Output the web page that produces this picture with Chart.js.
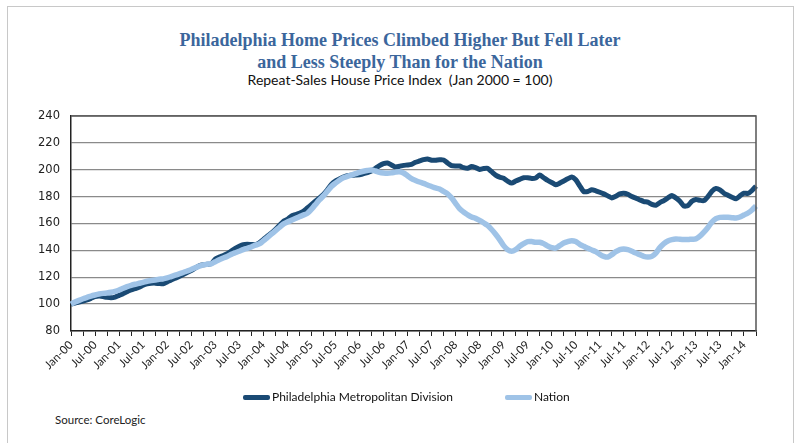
<!DOCTYPE html>
<html>
<head>
<meta charset="utf-8">
<script src="https://cdn.jsdelivr.net/npm/chart.js@4.4.1/dist/chart.umd.min.js"></script>
<style>
  body { margin: 0; width: 800px; height: 443px; background: #fff; position: relative; overflow: hidden; font-family: Lato, sans-serif; }
  #frame { position: absolute; left: 7px; top: 6px; width: 785px; height: 460px; border: 1px solid #c8c8c8; }
  #titulo { position: absolute; left: 0; width: 800px; top: 29px; text-align: center; font-family: "Liberation Serif", serif; font-weight: bold; font-size: 18px; line-height: 22px; color: #3b669c; }
  #subtitulo { position: absolute; left: 0; width: 800px; top: 71px; text-align: center; font-size: 14px; color: #111; }
  #grafico { position: absolute; left: 0; top: 98px; }
  .leyenda { position: absolute; top: 389px; font-size: 12px; color: #111; }
  .muestra { display: inline-block; width: 27px; height: 5px; border-radius: 2px; vertical-align: middle; margin-right: 2px; }
  #fuente { position: absolute; left: 55px; top: 413px; font-size: 11.5px; color: #222; }
</style>
</head>
<body>
<div id="frame"></div>
<div id="titulo">Philadelphia Home Prices Climbed Higher But Fell Later<br>and Less Steeply Than for the Nation</div>
<div id="subtitulo">Repeat-Sales House Price Index&nbsp; (Jan 2000 = 100)</div>
<canvas id="grafico" width="800" height="293"></canvas>
<div class="leyenda" style="left:243px"><span class="muestra" style="background:#1a4a74"></span>Philadelphia Metropolitan Division</div>
<div class="leyenda" style="left:505px"><span class="muestra" style="background:#9fc3e7"></span>Nation</div>
<div id="fuente">Source: CoreLogic</div>
<script>
// Meses Jan-00 .. Apr-14 (172 puntos)
const mesesNombre = ['Jan','Feb','Mar','Apr','May','Jun','Jul','Aug','Sep','Oct','Nov','Dec'];
const meses = [];
for (let a = 2000; a <= 2014; a++) {
    for (let m = 0; m < 12; m++) {
        if (meses.length < 172) meses.push(mesesNombre[m] + '-' + String(a % 100).padStart(2, '0'));
    }
}

// Philadelphia Metropolitan Division
const philadelphia = [
    100, 100.8, 101.5, 102.3, 103.2, 104.3, 105.5, 106, 105.6, 105, 104.7, 105.2,          // 2000
    106.5, 107.8, 109.3, 110.5, 111.5, 112.5, 114, 115, 115.5, 115.6, 115.3, 115.1,        // 2001
    116.5, 118, 119.3, 120.5, 122, 123.5, 125, 126.8, 128.5, 129.3, 129.6, 130,            // 2002
    133.5, 135, 136.2, 137.5, 139.5, 141.5, 143, 144.2, 144.5, 144.3, 144.2, 145.5,        // 2003
    148, 150.5, 152.8, 155.5, 158.5, 161.5, 163, 165.5, 166.5, 167.5, 169, 171.5,          // 2004
    174, 176.5, 179, 181.5, 185, 189, 191.5, 193, 194.5, 195.6, 195.8, 196,                // 2005
    196.2, 197, 197.8, 199, 201, 203, 204.5, 205, 203.5, 202, 202.5, 203.2,                // 2006
    203.5, 204, 205.5, 206.5, 207.5, 208, 207, 207, 207.3, 207.2, 205, 203,                // 2007
    202.7, 202.7, 201.5, 201, 202.3, 201.5, 200.2, 200.8, 201, 198.5, 196, 194.5,          // 2008
    193.6, 191.5, 190, 191.5, 192.8, 194, 194, 193.5, 193.8, 196, 194, 192,                // 2009
    190.5, 188.8, 190, 191.6, 193.2, 194.6, 192.5, 188, 183.7, 183.8, 185, 184.3,          // 2010
    183.2, 182, 180.5, 179, 180.3, 182, 182.5, 181.7, 180, 178.8, 177.5, 176.3,            // 2011
    175.8, 174.2, 173.5, 175.5, 177, 179, 180.7, 179, 176.5, 173, 173.2, 176.5,            // 2012
    177.8, 177.2, 177, 180, 184, 186, 185, 182.5, 181, 179.5, 178.3, 180.5,                // 2013
    182.5, 182.3, 184.5, 187.8                                                             // 2014
];

// Nation
const nacion = [
    100, 101.5, 102.8, 104, 105, 106, 106.8, 107.5, 108, 108.3, 108.8, 109.5,              // 2000
    110.5, 111.8, 113, 114, 114.8, 115.5, 116.2, 117, 117.5, 118, 118.5, 118.8,            // 2001
    119.5, 120.5, 121.5, 122.5, 123.5, 124.6, 125.7, 127, 128.2, 129.2, 129.7, 130,        // 2002
    131.5, 133, 134.3, 135.5, 137, 138.2, 139.3, 140.5, 141.5, 142.5, 143.8, 144.8,        // 2003
    147, 149.5, 152, 154.5, 157, 159.5, 161, 162.3, 163.6, 165, 166.2, 167.5,              // 2004
    170.5, 174, 177.5, 180.5, 184, 187.5, 190, 192.2, 194, 195, 196, 197,                  // 2005
    198, 198.8, 199.4, 199.7, 199, 198, 197.5, 197.3, 197.6, 198.2, 198.5, 197.5,          // 2006
    195.5, 193.3, 192, 190.8, 189.8, 188.6, 187.5, 186.4, 185.6, 183.8, 182, 179,          // 2007
    175, 171, 168.5, 166.5, 164.8, 163.8, 162.3, 160.5, 158.5, 155.5, 152, 148,            // 2008
    143.5, 140.5, 139.3, 140.5, 143, 145, 146.5, 146.5, 146, 146, 145, 143.2,              // 2009
    142, 141.7, 143.5, 145.4, 146.5, 147.2, 146.5, 144.5, 143, 141.5, 140.3, 139,          // 2010
    137, 135.5, 135, 136.8, 139, 140.6, 141, 140.5, 139.3, 138, 136.8, 135.5,              // 2011
    135, 135.5, 138, 142, 145, 147, 148, 148.5, 148.2, 148, 148, 148.3,                    // 2012
    148.5, 150.5, 153.5, 157, 161, 163.5, 164.5, 164.7, 164.6, 164.3, 164.1, 164.8,        // 2013
    166.3, 167.8, 170, 173                                                                 // 2014
];

const yMin = 80;
const yMax = 240;
const yPaso = 20;

// borde superior y derecho del área del gráfico
const marco = {
    id: 'marco',
    afterDraw(chart) {
        const { ctx, chartArea } = chart;
        ctx.save();
        ctx.strokeStyle = '#555';
        ctx.lineWidth = 1.5;
        ctx.beginPath();
        ctx.moveTo(chartArea.left, chartArea.top);
        ctx.lineTo(chartArea.right, chartArea.top);
        ctx.lineTo(chartArea.right, chartArea.bottom);
        ctx.stroke();
        ctx.restore();
    }
};

const ctx = document.getElementById('grafico').getContext('2d');
new Chart(ctx, {
    type: 'line',
    data: {
        labels: meses,
        datasets: [
            {
                label: 'Philadelphia Metropolitan Division',
                data: philadelphia,
                borderColor: '#1a4a74',
                borderWidth: 5,
                pointRadius: 0,
                tension: 0.2,
                order: 1
            },
            {
                label: 'Nation',
                data: nacion,
                borderColor: '#9fc3e7',
                borderWidth: 5.5,
                pointRadius: 0,
                tension: 0.3,
                order: 0
            }
        ]
    },
    options: {
        responsive: false,
        animation: false,
        layout: { padding: { top: 12, right: 44, left: 0, bottom: 0 } },
        scales: {
            x: {
                afterFit: (s) => { s.height = 60; },
                grid: { drawOnChartArea: false, drawTicks: true, tickLength: 5, color: '#222' },
                border: { color: '#222', width: 1.5 },
                ticks: {
                    autoSkip: false,
                    maxRotation: 45,
                    minRotation: 45,
                    padding: 2,
                    color: '#222',
                    font: { family: 'Lato', size: 11.5 },
                    callback: function (val, i) {
                        if (i % 6 === 0) return meses[i];
                        if (i % 3 === 0) return '';
                        return null;
                    }
                }
            },
            y: {
                min: yMin,
                max: yMax,
                afterFit: (s) => { s.width = 71; },
                grid: { color: '#8a8a8a', lineWidth: 1.3, drawTicks: false },
                border: { color: '#222', width: 1.5 },
                ticks: {
                    stepSize: yPaso,
                    padding: 11,
                    color: '#222',
                    font: { family: 'DejaVu Sans', size: 11.5 }
                }
            }
        },
        plugins: {
            legend: { display: false },
            tooltip: { enabled: false }
        }
    },
    plugins: [marco]
});
</script>
</body>
</html>
